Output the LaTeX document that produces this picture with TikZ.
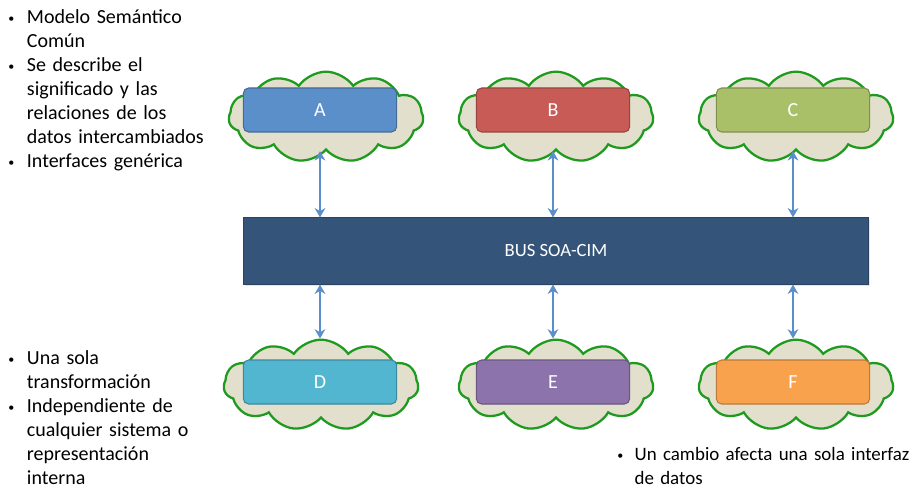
\documentclass[tikz,border=0pt]{standalone}
\usepackage{fontspec}
\setmainfont{Carlito}
\usetikzlibrary{shapes.symbols,arrows.meta,shadows}
\definecolor{nube}{HTML}{E2DFCC}
\definecolor{nubeborde}{HTML}{1E9A1E}
\definecolor{flecha}{HTML}{5B8FCA}
\definecolor{busazul}{HTML}{34547A}
\definecolor{cajaA}{HTML}{5B8FC9}
\definecolor{cajaB}{HTML}{C95B57}
\definecolor{cajaC}{HTML}{A9C068}
\definecolor{cajaD}{HTML}{52B6D1}
\definecolor{cajaE}{HTML}{8C73AC}
\definecolor{cajaF}{HTML}{F9A24E}
\tikzset{
  nubeform/.style={cloud, cloud puffs=11, cloud puff arc=110, aspect=2.4,
    draw=nubeborde, line width=1.7pt, fill=nube,
    minimum width=146pt, minimum height=68pt, inner sep=0pt},
  caja/.style={rounded corners=4pt, draw=#1!75!black, line width=0.8pt, fill=#1,
    minimum width=115pt, minimum height=33pt, text=white,
    font=\fontsize{15}{18}\selectfont},
  enlace/.style={flecha, line width=2pt, {Stealth[length=7pt,width=8pt]}-{Stealth[length=7pt,width=8pt]}},
  lista/.style={anchor=north west, inner sep=0pt, text width=170pt, align=left,
    font=\fontsize{15}{18}\selectfont}
}
\newcommand{\punto}[1]{\makebox[14pt][l]{\raisebox{0.5pt}{\small\textbullet}}#1}
\newcommand{\sangria}{\hspace*{14pt}}
\begin{document}
\begin{tikzpicture}[x=0.75pt,y=-0.75pt]
  \useasboundingbox (0,0) rectangle (919,491);
  % nubes arriba
  \node[nubeform] (nA) at (326,117) {};
  \node[nubeform] (nB) at (556,117) {};
  \node[nubeform] (nC) at (796,117) {};
  % nubes abajo
  \node[nubeform] (nD) at (321,385) {};
  \node[nubeform] (nE) at (556,385) {};
  \node[nubeform] (nF) at (796,385) {};
  % cajas
  \node[caja=cajaA] (A) at (320,110) {A};
  \node[caja=cajaB] (B) at (553,110) {B};
  \node[caja=cajaC] (C) at (793,110) {C};
  \node[caja=cajaD] (D) at (320,382) {D};
  \node[caja=cajaE] (E) at (553,382) {E};
  \node[caja=cajaF] (F) at (793,382) {F};
  % bus
  \node[fill=busazul, draw=busazul!80!black, drop shadow={opacity=0.2,shadow xshift=1pt,shadow yshift=-1.5pt},
    minimum width=469pt, minimum height=50pt, text=white,
    font=\fontsize{14}{16}\selectfont] (bus) at (556,251) {BUS SOA-CIM};
  % flechas
  \foreach \c/\n in {A/nA,B/nB,C/nC} {
    \draw[enlace] (\n.south -| \c) -- (bus.north -| \c);
  }
  \foreach \c/\n in {D/nD,E/nE,F/nF} {
    \draw[enlace] (bus.south -| \c) -- (\n.north -| \c);
  }
  % textos
  \node[lista] (t1) at (8,9) {\punto{Modelo Semántico}\\\sangria Común\\
    \punto{Se describe el}\\\sangria significado y las\\\sangria relaciones de los\\\sangria datos intercambiados\\
    \punto{Interfaces genérica}};
  \node[lista] (t2) at (8,350) {\punto{Una sola}\\\sangria transformación\\
    \punto{Independiente de}\\\sangria cualquier sistema o\\\sangria representación\\\sangria interna};
  \node[lista, text width=260pt, font=\fontsize{14.2}{18}\selectfont] (t3) at (617,447)
    {\makebox[13pt][l]{\raisebox{0.5pt}{\small\textbullet}}Un cambio afecta una sola interfaz\\\hspace*{13pt}de datos};
\end{tikzpicture}
\end{document}
